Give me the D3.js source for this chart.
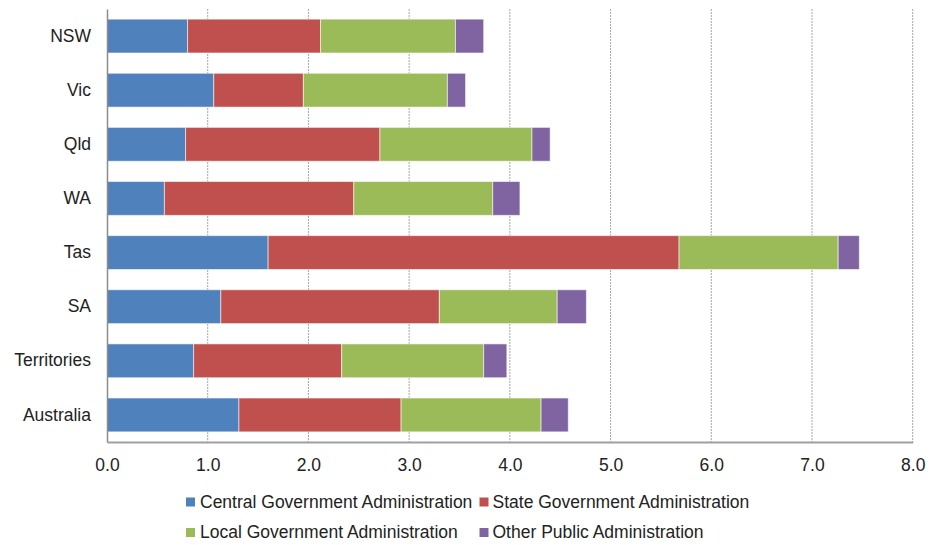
<!DOCTYPE html>
<html>
<head>
<meta charset="utf-8">
<script src="https://cdn.jsdelivr.net/npm/d3@7"></script>
<style>
  html, body { margin: 0; padding: 0; background: #fff; }
  svg text { font-family: "Liberation Sans", Arial, sans-serif; fill: #222; }
</style>
</head>
<body>
<svg id="chart" width="936" height="545"></svg>
<script>
const categories = ["NSW", "Vic", "Qld", "WA", "Tas", "SA", "Territories", "Australia"];
const seriesNames = ["Central Government Administration", "State Government Administration",
                     "Local Government Administration", "Other Public Administration"];
const central = [0.80, 1.06, 0.78, 0.57, 1.60, 1.13, 0.86, 1.31];
const state   = [1.32, 0.89, 1.93, 1.88, 4.08, 2.17, 1.47, 1.61];
const local   = [1.34, 1.43, 1.51, 1.38, 1.58, 1.17, 1.41, 1.39];
const other   = [0.28, 0.18, 0.18, 0.27, 0.21, 0.29, 0.23, 0.27];
const xTicks = [0, 1, 2, 3, 4, 5, 6, 7, 8];
const colors = ["#4F81BD", "#C0504D", "#9BBB59", "#8064A2"];

(function () {
const svg = d3.select("#chart");
const mLeft = 107, mRight = 912.7, mTop = 9, mBottom = 442;
const fs = 17.5;

const x = d3.scaleLinear().domain([0, 8]).range([mLeft, mRight]);
const y = d3.scaleBand().domain(categories).range([mTop, mBottom])
  .paddingInner(0.375).paddingOuter(0.1875);

// gridlines
svg.append("g").selectAll("line").data(xTicks.filter(d => d > 0)).join("line")
  .attr("x1", d => x(d)).attr("x2", d => x(d))
  .attr("y1", mTop).attr("y2", mBottom)
  .attr("stroke", "#a6a6a6").attr("stroke-width", 1)
  .attr("stroke-dasharray", "2,1");

// stacked data
const rows = categories.map((c, i) => ({ cat: c, s0: central[i], s1: state[i], s2: local[i], s3: other[i] }));
const stacked = d3.stack().keys(["s0", "s1", "s2", "s3"])(rows);

svg.append("g").selectAll("g").data(stacked).join("g")
  .attr("fill", (d, i) => colors[i])
  .selectAll("rect").data(d => d).join("rect")
  .attr("x", d => x(d[0]))
  .attr("width", d => x(d[1]) - x(d[0]))
  .attr("y", d => y(d.data.cat))
  .attr("height", y.bandwidth())
  .attr("stroke", "rgba(255,255,255,0.55)")
  .attr("stroke-width", 1);

// axes
const xAxis = d3.axisBottom(x).tickValues(xTicks).tickFormat(d3.format(".1f")).tickSize(0).tickPadding(17);
const gx = svg.append("g").attr("transform", `translate(0,${mBottom})`).call(xAxis);
gx.select(".domain").attr("stroke", "#a0a0a0").attr("stroke-width", 2);
gx.selectAll("text").attr("font-size", fs).attr("font-family", "Liberation Sans, Arial, sans-serif").attr("fill", "#222");

const yAxis = d3.axisLeft(y).tickSize(0).tickPadding(16);
const gy = svg.append("g").attr("transform", `translate(${mLeft},0)`).call(yAxis);
gy.select(".domain").attr("stroke", "#8c8c8c").attr("stroke-width", 1.5);
gy.selectAll("text").attr("font-size", fs).attr("font-family", "Liberation Sans, Arial, sans-serif").attr("fill", "#222");

// legend
const legendPos = [
  { sx: 186, tx: 200, ty: 507.5 },
  { sx: 479.5, tx: 492.5, ty: 507.5 },
  { sx: 186, tx: 200, ty: 538 },
  { sx: 479.5, tx: 492.5, ty: 538 }
];
const lg = svg.append("g").selectAll("g").data(seriesNames).join("g");
lg.append("rect")
  .attr("x", (d, i) => legendPos[i].sx)
  .attr("y", (d, i) => legendPos[i].ty - 10)
  .attr("width", 9).attr("height", 9)
  .attr("fill", (d, i) => colors[i]);
lg.append("text")
  .attr("x", (d, i) => legendPos[i].tx)
  .attr("y", (d, i) => legendPos[i].ty)
  .attr("font-size", fs)
  .text(d => d);
})();
</script>
</body>
</html>
